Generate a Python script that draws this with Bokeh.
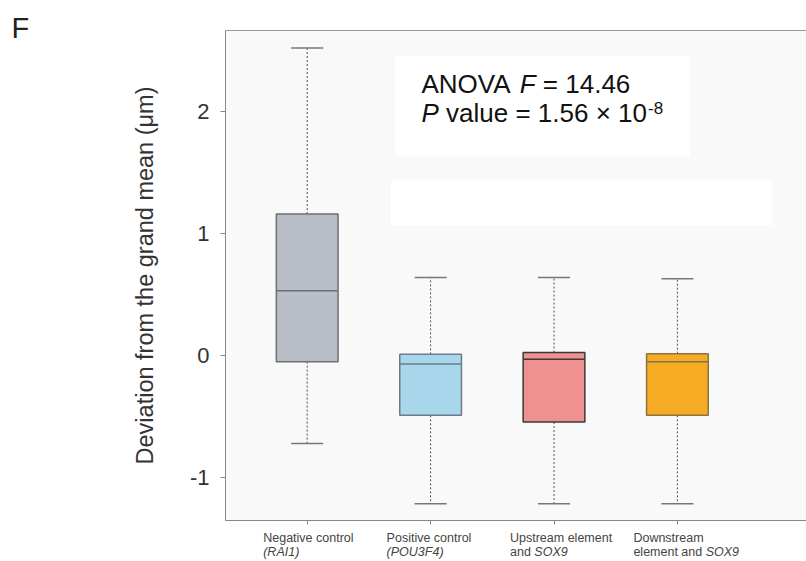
from bokeh.plotting import figure
from bokeh.models import Range1d, FixedTicker, LinearAxis, Label, BoxAnnotation, ColumnDataSource
from bokeh.layouts import column, row
from bokeh.core.properties import value
from bokeh.embed import file_html
from bokeh.resources import INLINE

# ---------------- data ----------------
categories = ["Negative control (RAI1)", "Positive control (POU3F4)",
              "Upstream element and SOX9", "Downstream element and SOX9"]
label_line1 = ["Negative control", "Positive control", "Upstream element", "Downstream"]
label_line2_plain = ["", "", "and\u00a0", "element and\u00a0"]
label_line2_italic = ["(RAI1)", "(POU3F4)", "SOX9", "SOX9"]
upper = [2.52, 0.64, 0.64, 0.63]
q3 = [1.16, 0.01, 0.025, 0.015]
median = [0.53, -0.07, -0.03, -0.05]
q1 = [-0.05, -0.49, -0.545, -0.49]
lower = [-0.72, -1.215, -1.215, -1.215]
y_ticks = [-1, 0, 1, 2]
anova_f = "14.46"
p_mantissa = "1.56"
p_exponent = "-8"
panel_letter = "F"

fill_colors = ["#b9bec6", "#a8d6eb", "#ef9191", "#f5ab24"]
line_colors = ["#6b7075", "#6a7d88", "#3a3a3a", "#8c7442"]

FONT = "Liberation Sans"
NB = "\u00a0"

# Arial / Liberation Sans advance widths (per 1000 em)
ADV = {" ": 278, NB: 278, "a": 556, "d": 556, "e": 556, "l": 222, "m": 833, "n": 556, "t": 278,
       "v": 500, "u": 556, "A": 667, "N": 722, "O": 778, "V": 667, "F": 611, "P": 667,
       "S": 667, "X": 667, "9": 556, "=": 584, "1": 556, "4": 556, "6": 556, "5": 556,
       ".": 278, "\u00d7": 584, "0": 556, "-": 333, "(": 333, ")": 333}


def tw(s, size):
    return sum(ADV.get(c, 556) for c in s) * size / 1000.0


xs = list(range(len(categories)))
src = ColumnDataSource(dict(x=xs, upper=upper, q3=q3, median=median, q1=q1, lower=lower,
                            fill=fill_colors, line=line_colors,
                            cl=[x - 0.13 for x in xs], cr=[x + 0.13 for x in xs],
                            ml=[x - 0.25 for x in xs], mr=[x + 0.25 for x in xs]))

x_start, x_end = -0.662, 4.046
y_start, y_end = -1.352, 2.664

MAIN_H = 530
LEFT_W = 40

p = figure(width=806 - LEFT_W, height=MAIN_H, output_backend="svg", toolbar_location=None,
           title=None,
           x_range=Range1d(x_start, x_end), y_range=Range1d(y_start, y_end),
           min_border_left=225 - LEFT_W, min_border_right=0, min_border_top=30, min_border_bottom=10)
p.background_fill_color = "#f9f9f9"
p.border_fill_color = "#ffffff"
p.outline_line_color = None
p.grid.visible = False

# white patches behind annotation text (as in reference)
p.add_layout(BoxAnnotation(left=0.71, right=3.10, top=2.46, bottom=1.64,
                           fill_color="#ffffff", fill_alpha=1, line_color=None, level="underlay"))
p.add_layout(BoxAnnotation(left=0.68, right=3.77, top=1.434, bottom=1.066,
                           fill_color="#ffffff", fill_alpha=1, line_color=None, level="underlay"))

# whiskers
p.segment(x0="x", y0="q3", x1="x", y1="upper", source=src, line_color="#555555",
          line_width=1, line_dash="2 2")
p.segment(x0="x", y0="q1", x1="x", y1="lower", source=src, line_color="#555555",
          line_width=1, line_dash="2 2")
# caps
p.segment(x0="cl", y0="upper", x1="cr", y1="upper", source=src, line_color="#777777", line_width=1.5)
p.segment(x0="cl", y0="lower", x1="cr", y1="lower", source=src, line_color="#777777", line_width=1.5)
# boxes
p.vbar(x="x", top="q3", bottom="q1", width=0.5, source=src, fill_color="fill",
       line_color="line", line_width=1.5)
# medians
p.segment(x0="ml", y0="median", x1="mr", y1="median", source=src, line_color="line", line_width=1.5)

# axes
yax = p.yaxis[0]
yax.ticker = FixedTicker(ticks=y_ticks)
yax.major_label_overrides = {t: str(t) for t in y_ticks}
yax.minor_tick_line_color = None
yax.major_tick_in = 0
yax.major_tick_out = 5
yax.major_tick_line_color = "#888888"
yax.axis_line_color = "#888888"
yax.major_label_text_font = FONT
yax.major_label_text_font_size = "22px"
yax.major_label_text_color = "#333333"
yax.major_label_standoff = 11
yax.axis_label = "Deviation from the grand mean (\u03bcm)"
yax.axis_label_text_font = FONT
yax.axis_label_text_font_size = "23.5px"
yax.axis_label_text_font_style = "normal"
yax.axis_label_text_color = "#333333"
yax.axis_label_standoff = 29

xax = p.xaxis[0]
xax.ticker = FixedTicker(ticks=xs)
xax.minor_tick_line_color = None
xax.major_tick_in = 0
xax.major_tick_out = 4
xax.major_tick_line_color = "#888888"
xax.axis_line_color = "#888888"
xax.major_label_text_font_size = "0px"
xax.major_label_text_color = None
xax.major_label_standoff = 0

top_ax = LinearAxis(major_tick_line_color=None, minor_tick_line_color=None,
                    major_label_text_font_size="0px", major_label_text_color=None,
                    major_label_standoff=0,
                    axis_line_color="#999999", major_tick_out=0, major_tick_in=0)
p.add_layout(top_ax, "above")

# ANOVA annotation
A_SIZE = 26
ax0, ay1, ay2 = 0.926, 2.222, 1.985
parts1 = [("ANOVA" + NB, "normal"), ("F", "italic"), (NB + "=" + NB + anova_f, "normal")]
off = 0.0
for txt, style in parts1:
    p.add_layout(Label(x=ax0, y=ay1, x_offset=off, text=txt, text_font=FONT,
                       text_font_style=style, text_font_size=f"{A_SIZE}px", text_color="#111111",
                       text_baseline="alphabetic", text_align="left"))
    off += tw(txt, A_SIZE)
parts2 = [("P", "italic"), (NB + "value" + NB + "=" + NB + p_mantissa + NB + "\u00d7" + NB + "10", "normal")]
off = 0.0
for txt, style in parts2:
    p.add_layout(Label(x=ax0, y=ay2, x_offset=off, text=txt, text_font=FONT,
                       text_font_style=style, text_font_size=f"{A_SIZE}px", text_color="#111111",
                       text_baseline="alphabetic", text_align="left"))
    off += tw(txt, A_SIZE)
p.add_layout(Label(x=ax0, y=ay2, x_offset=off + 1, y_offset=5, text=p_exponent, text_font=FONT,
                   text_font_size="17px", text_color="#111111",
                   text_baseline="alphabetic", text_align="left"))

# ---------------- left strip with the panel letter ----------------
fl = figure(width=LEFT_W, height=MAIN_H, output_backend="svg", toolbar_location=None,
            title=None, frame_align=False,
            x_range=Range1d(0, LEFT_W), y_range=Range1d(-MAIN_H, 0),
            min_border=0, min_border_left=0, min_border_right=0, min_border_top=0, min_border_bottom=0)
fl.axis.visible = False
fl.grid.visible = False
fl.outline_line_color = None
fl.background_fill_color = "#ffffff"
fl.border_fill_color = "#ffffff"
fl.text(x=[11], y=[-27], text=[panel_letter], text_font=value(FONT), text_font_size="29px",
        text_color="#222222", text_baseline="alphabetic", text_align="left")

# ---------------- bottom strip with category labels ----------------
BOT_H = 561 - MAIN_H
fb = figure(width=806, height=BOT_H, output_backend="svg", toolbar_location=None,
            title=None,
            x_range=p.x_range, y_range=Range1d(-BOT_H, 0),
            min_border_left=225, min_border_right=0, min_border_top=0, min_border_bottom=0)
fb.axis.visible = False
fb.grid.visible = False
fb.outline_line_color = None
fb.background_fill_color = "#ffffff"
fb.border_fill_color = "#ffffff"

CAT_SIZE = 12.5
LBL_DX = -44
fb.text(x=xs, y=[-7] * len(xs), text=label_line1, x_offset=LBL_DX,
        text_font=value(FONT), text_font_size=f"{CAT_SIZE}px", text_color="#444444",
        text_baseline="alphabetic", text_align="left")
fb.text(x=xs, y=[-21] * len(xs), text=label_line2_plain, x_offset=LBL_DX,
        text_font=value(FONT), text_font_size=f"{CAT_SIZE}px", text_color="#444444",
        text_baseline="alphabetic", text_align="left")
it_src = ColumnDataSource(dict(x=xs, y=[-21] * len(xs), text=label_line2_italic,
                               dx=[LBL_DX + tw(s, CAT_SIZE) for s in label_line2_plain]))
fb.text(x="x", y="y", text="text", x_offset="dx", source=it_src,
        text_font=value(FONT), text_font_style="italic", text_font_size=f"{CAT_SIZE}px",
        text_color="#444444", text_baseline="alphabetic", text_align="left")

layout = column(row(fl, p, spacing=0), fb, spacing=0)

open("out.html", "w").write(file_html(layout, INLINE))
